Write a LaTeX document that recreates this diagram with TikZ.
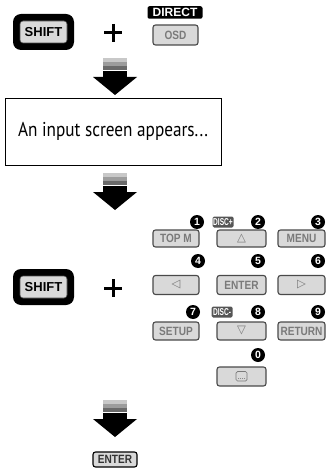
\documentclass[tikz,border=0pt]{standalone}
\usepackage{fontspec}
\setmainfont{Liberation Sans}
\newfontfamily\ptsans{PT Sans}[FakeStretch=0.86]
\newfontfamily\djv{DejaVu Sans}
\newfontfamily\keyfont{Liberation Sans Bold}[FakeStretch=0.84]
\newfontfamily\shiftfont{Liberation Sans Bold}
\newfontfamily\discfont{Liberation Sans Bold}[FakeStretch=0.66]
\definecolor{keyfill}{HTML}{D9D9D9}
\definecolor{keydraw}{HTML}{4A4A4A}
\definecolor{keytext}{HTML}{7A7A7A}
\definecolor{stripeA}{HTML}{C8C8C8}
\definecolor{stripeB}{HTML}{9C9C9C}
\definecolor{stripeC}{HTML}{6A6A6A}
\definecolor{disclab}{HTML}{555555}
\tikzset{
  keyk/.style={rounded corners=2.5pt, fill=keyfill, draw=keydraw, line width=1.1pt,
     text=keytext, font=\keyfont\fontsize{12}{12}\selectfont, inner sep=0pt},
  symk/.style={keyk, font=\djv\fontsize{11.5}{11.5}\selectfont},
  numc/.style={circle, fill=black, text=white, font=\shiftfont\fontsize{10.5}{10.5}\selectfont,
     minimum size=14pt, inner sep=0pt},
  disclabel/.style={rounded corners=1.5pt, fill=disclab, text=white,
     font=\discfont\fontsize{10}{10}\selectfont, inner sep=0pt, minimum width=21pt, minimum height=11pt},
  shiftouter/.style={rounded corners=8pt, fill=black, minimum width=61pt, minimum height=36pt, inner sep=0pt},
  shiftinner/.style={rounded corners=3pt, fill=keyfill, draw=keydraw, line width=0.6pt,
     minimum width=47pt, minimum height=22pt, inner sep=0pt, font=\shiftfont\fontsize{13}{13}\selectfont},
  plussign/.style={line width=3pt},
}
\newcommand{\flowarrow}[1]{%
  \begin{scope}[yshift=-#1pt]
    \fill[stripeA] (103,58) rectangle (127,62);
    \fill[stripeB] (103,62) rectangle (127,66);
    \fill[stripeC] (103,66) rectangle (127,70);
    \fill[black] (103,71) rectangle (127,78);
    \fill[black] (93,77) -- (137,77) -- (115,95) -- cycle;
  \end{scope}}
\begin{document}
\begin{tikzpicture}[x=1pt,y=-1pt]
\useasboundingbox (0,0) rectangle (330,473);
% --- step 1
\node[shiftouter] (shiftA) at (43.5,32) {};
\node[shiftinner] (shiftAin) at (43.5,32) {SHIFT};
\draw[plussign] (104,33) -- (122,33) (113,24) -- (113,42);
\node[rounded corners=2pt, minimum width=55pt, minimum height=12.5pt, fill=black, text=white, inner sep=0pt,
      font=\shiftfont\fontsize{12}{12}\selectfont] (direct) at (175,12.5) {DIRECT};
\node[keyk, minimum width=45pt, minimum height=20pt] (osd) at (175.5,35) {OSD};
\flowarrow{0}
% --- step 2
\node[draw=black, line width=0.9pt, minimum width=216pt, minimum height=67pt, inner sep=0pt,
      font=\ptsans\fontsize{20}{20}\selectfont] (screen) at (113,131.5) {An input screen appears...};
\flowarrow{115}
% --- step 3
\node[shiftouter] (shiftB) at (43.5,287) {};
\node[shiftinner] (shiftBin) at (43.5,287) {SHIFT};
\draw[plussign] (104,288) -- (122,288) (113,279) -- (113,297);
% number markers
\node[numc] (n1) at (197,222) {1};
\node[disclabel] (discp) at (223,222) {DISC+};
\node[numc] (n2) at (258,222) {2};
\node[numc] (n3) at (318,222) {3};
\node[numc] (n4) at (198,261) {4};
\node[numc] (n5) at (258,261) {5};
\node[numc] (n6) at (318,261) {6};
\node[numc] (n7) at (193,312) {7};
\node[disclabel] (discm) at (222,312) {DISC-};
\node[numc] (n8) at (258,312) {8};
\node[numc] (n9) at (318,312) {9};
\node[numc] (n0) at (258,355) {0};
% keys
\node[keyk, minimum width=46pt, minimum height=17pt] (topm) at (176,238.5) {TOP M};
\node[symk, minimum width=49pt, minimum height=17pt] (up) at (241.5,238.5) {△};
\node[keyk, minimum width=47pt, minimum height=17pt] (menu) at (301.5,238.5) {MENU};
\node[symk, minimum width=46pt, minimum height=19pt] (left) at (176,285) {◁};
\node[keyk, minimum width=49pt, minimum height=19pt] (enterk) at (241.5,285) {ENTER};
\node[symk, minimum width=47pt, minimum height=19pt] (right) at (301.5,285) {▷};
\node[keyk, minimum width=46pt, minimum height=18pt] (setup) at (176,331) {SETUP};
\node[symk, minimum width=49pt, minimum height=18pt] (down) at (241.5,331) {▽};
\node[keyk, minimum width=47pt, minimum height=18pt] (return) at (301.5,331) {RETURN};
\node[keyk, minimum width=49pt, minimum height=19pt] (zero) at (241.5,376.5) {};
\draw[keytext, line width=0.7pt, rounded corners=1.5pt] (236,371.5) rectangle (247,381);
\fill[keytext] (238.5,378.5) circle (0.5pt) (240.5,378.5) circle (0.5pt) (242.5,378.5) circle (0.5pt) (244.5,378.5) circle (0.5pt);
\flowarrow{342}
% --- step 4
\node[keyk, draw=black, text=black!80, minimum width=44pt, minimum height=15pt] (enterfin) at (115,459.5) {ENTER};
\end{tikzpicture}
\end{document}
